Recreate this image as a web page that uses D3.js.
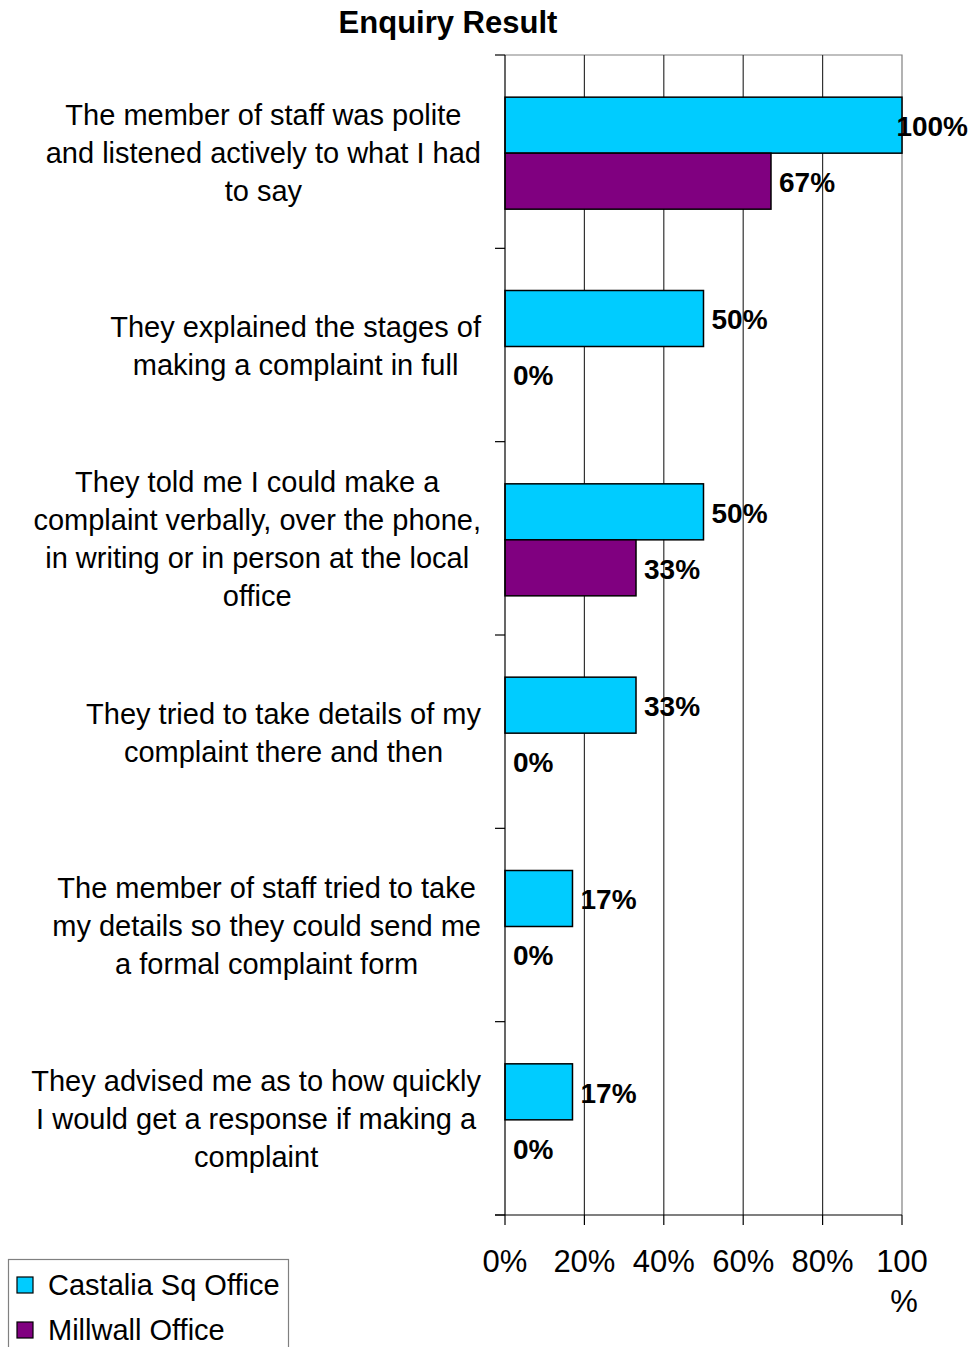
<!DOCTYPE html>
<html>
<head>
<meta charset="utf-8">
<script src="https://cdn.jsdelivr.net/npm/d3@7"></script>
<style>
  html, body { margin: 0; padding: 0; background: #fff; }
  svg { display: block; font-family: "Liberation Sans", Arial, sans-serif; }
</style>
</head>
<body>
<svg id="chart" width="972" height="1347"></svg>
<script>
// Survey statements (line breaks mark how each label wraps)
const categories = [
  "The member of staff was polite\nand listened actively to what I had\nto say",
  "They explained the stages of\nmaking a complaint in full",
  "They told me I could make a\ncomplaint verbally, over the phone,\nin writing or in person at the local\noffice",
  "They tried to take details of my\ncomplaint there and then",
  "The member of staff tried to take\nmy details so they could send me\na formal complaint form",
  "They advised me as to how quickly\nI would get a response if making a\ncomplaint"
];
const seriesNames = ["Castalia Sq Office", "Millwall Office"];
const castaliaValues = [100, 50, 50, 33, 17, 17];
const millwallValues = [67, 0, 33, 0, 0, 0];
const xTicks = [0, 20, 40, 60, 80, 100];
const seriesColors = ["#00CCFF", "#800080"];
const title = "Enquiry Result";

const svg = d3.select("#chart");
const W = 972;

const plot = { left: 505, right: 902, top: 55, bottom: 1215 };

const x = d3.scaleLinear().domain([0, 100]).range([plot.left, plot.right]);
const y = d3.scaleBand().domain(d3.range(categories.length)).range([plot.top, plot.bottom]).padding(0);
const ySub = d3.scaleBand().domain(seriesNames).range([1.5, y.bandwidth() + 1.5]).paddingInner(0).paddingOuter(0.726);

const rows = categories.map((c, i) => ({
  label: c,
  i,
  values: [castaliaValues[i], millwallValues[i]]
}));

// Title
svg.append("text")
  .attr("x", 448).attr("y", 33)
  .attr("text-anchor", "middle")
  .attr("font-weight", "bold")
  .attr("font-size", 31)
  .text(title);

// Plot frame (top and right edges)
svg.append("path")
  .attr("d", `M${plot.left},${plot.top}H${plot.right}V${plot.bottom}`)
  .attr("fill", "none").attr("stroke", "#808080").attr("stroke-width", 1.2);

// Vertical gridlines
svg.append("g").selectAll("line")
  .data(xTicks.filter(t => t > 0 && t < 100))
  .join("line")
  .attr("x1", d => x(d)).attr("x2", d => x(d))
  .attr("y1", plot.top).attr("y2", plot.bottom)
  .attr("stroke", "#333").attr("stroke-width", 1.2);

// Bars
const groups = svg.append("g").selectAll("g")
  .data(rows).join("g")
  .attr("transform", d => `translate(0,${y(d.i)})`);

groups.selectAll("rect")
  .data(d => d.values.map((v, k) => ({ v, k })))
  .join("rect")
  .attr("x", x(0))
  .attr("y", d => ySub(seriesNames[d.k]))
  .attr("width", d => x(d.v) - x(0))
  .attr("height", ySub.bandwidth())
  .attr("fill", d => seriesColors[d.k])
  .attr("stroke", d => d.v > 0 ? "#000" : "none")
  .attr("stroke-width", 1.5);

// Value labels
groups.selectAll("text.val")
  .data(d => d.values.map((v, k) => ({ v, k })))
  .join("text")
  .attr("class", "val")
  .attr("font-weight", "bold")
  .attr("font-size", 28)
  .attr("y", d => ySub(seriesNames[d.k]) + ySub.bandwidth() / 2 + 11)
  .text(d => d.v + "%")
  .each(function (d) {
    const w = this.getComputedTextLength();
    const px = Math.min(x(d.v) + 8, W - 4 - w);
    d3.select(this).attr("x", px);
  });

// Y axis line and ticks
const yAxis = svg.append("g");
yAxis.append("line")
  .attr("x1", plot.left).attr("x2", plot.left)
  .attr("y1", plot.top).attr("y2", plot.bottom)
  .attr("stroke", "#000").attr("stroke-width", 1.2);
yAxis.selectAll("line.tick")
  .data(d3.range(categories.length + 1))
  .join("line").attr("class", "tick")
  .attr("x1", plot.left - 10).attr("x2", plot.left)
  .attr("y1", i => plot.top + i * y.step()).attr("y2", i => plot.top + i * y.step())
  .attr("stroke", "#000").attr("stroke-width", 1.2);

// Category labels: lines centred within a block right-aligned to the axis
const labelRight = 481, lineH = 38;
rows.forEach(r => {
  const lines = r.label.split("\n");
  const g = svg.append("g");
  const cy = y(r.i) + y.bandwidth() / 2;
  const texts = lines.map((ln, j) => g.append("text")
    .attr("font-size", 29)
    .attr("text-anchor", "middle")
    .attr("y", cy + (j - (lines.length - 1) / 2) * lineH + 11)
    .text(ln));
  const maxW = d3.max(texts, t => t.node().getComputedTextLength());
  texts.forEach(t => t.attr("x", labelRight - maxW / 2));
});

// X axis
const xAxis = svg.append("g");
xAxis.append("line")
  .attr("x1", plot.left - 10).attr("x2", plot.right)
  .attr("y1", plot.bottom).attr("y2", plot.bottom)
  .attr("stroke", "#000").attr("stroke-width", 1.2);
xAxis.selectAll("line.tick")
  .data(xTicks).join("line").attr("class", "tick")
  .attr("x1", d => x(d)).attr("x2", d => x(d))
  .attr("y1", plot.bottom).attr("y2", plot.bottom + 10)
  .attr("stroke", "#000").attr("stroke-width", 1.2);

const tickStep = x(20) - x(0);
xTicks.forEach(t => {
  const label = t + "%";
  const txt = xAxis.append("text")
    .attr("font-size", 31)
    .attr("text-anchor", "middle")
    .attr("x", x(t)).attr("y", 1272)
    .text(label);
  if (txt.node().getComputedTextLength() > tickStep * 0.92) {
    txt.text(String(t));
    xAxis.append("text")
      .attr("font-size", 31)
      .attr("text-anchor", "middle")
      .attr("x", x(t) + 2).attr("y", 1312)
      .text("%");
  }
});

// Legend
const legend = svg.append("g");
legend.append("rect")
  .attr("x", 8.5).attr("y", 1259.5).attr("width", 280).attr("height", 110)
  .attr("fill", "#fff").attr("stroke", "#808080").attr("stroke-width", 1.2);
seriesNames.forEach((name, k) => {
  const base = 1295 + k * 45;
  legend.append("rect")
    .attr("x", 17).attr("y", base - 18).attr("width", 16).attr("height", 16)
    .attr("fill", seriesColors[k]).attr("stroke", "#000").attr("stroke-width", 1.2);
  legend.append("text")
    .attr("x", 48).attr("y", base)
    .attr("font-size", 29)
    .text(name);
});
</script>
</body>
</html>
